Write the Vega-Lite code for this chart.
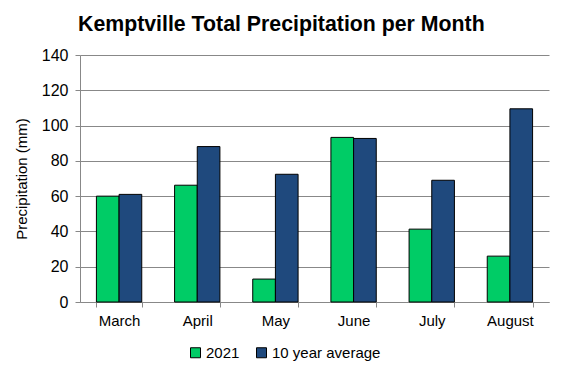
{
  "$schema": "https://vega.github.io/schema/vega-lite/v6.json",
  "width": 469,
  "height": 247,
  "autosize": "none",
  "padding": {"left": 80, "top": 55, "right": 15, "bottom": 71},
  "background": "white",
  "title": {
    "text": "Kemptville Total Precipitation per Month",
    "font": "Liberation Sans",
    "fontSize": 21.3,
    "fontWeight": "bold",
    "color": "#000000",
    "anchor": "start",
    "frame": "group",
    "dx": -2,
    "offset": 12
  },
  "data": {
    "values": [
      {"month": "March", "series": "2021", "value": 60},
      {"month": "March", "series": "10 year average", "value": 61},
      {"month": "April", "series": "2021", "value": 66.2},
      {"month": "April", "series": "10 year average", "value": 88.1},
      {"month": "May", "series": "2021", "value": 13},
      {"month": "May", "series": "10 year average", "value": 72.4},
      {"month": "June", "series": "2021", "value": 93.3},
      {"month": "June", "series": "10 year average", "value": 92.7},
      {"month": "July", "series": "2021", "value": 41.3},
      {"month": "July", "series": "10 year average", "value": 69},
      {"month": "August", "series": "2021", "value": 26},
      {"month": "August", "series": "10 year average", "value": 109.5}
    ]
  },
  "mark": {"type": "bar", "stroke": "#000000", "strokeWidth": 1},
  "encoding": {
    "x": {
      "field": "month",
      "type": "nominal",
      "sort": ["March", "April", "May", "June", "July", "August"],
      "scale": {"paddingInner": 0.42, "paddingOuter": 0.21},
      "axis": {
        "title": null,
        "labelAngle": 0,
        "labelFont": "Liberation Sans",
        "labelFontSize": 15,
        "labelColor": "#000000",
        "labelPadding": 6,
        "tickBand": "extent",
        "tickColor": "#888888",
        "tickSize": 5,
        "domainColor": "#888888",
        "grid": false
      }
    },
    "xOffset": {
      "field": "series",
      "type": "nominal",
      "sort": ["2021", "10 year average"],
      "scale": {"paddingInner": 0, "paddingOuter": 0}
    },
    "y": {
      "field": "value",
      "type": "quantitative",
      "scale": {"domain": [0, 140], "nice": false},
      "axis": {
        "title": "Precipitation (mm)",
        "titleFont": "Liberation Sans",
        "titleFontSize": 15,
        "titleFontWeight": "normal",
        "titleColor": "#000000",
        "titlePadding": 12,
        "values": [0, 20, 40, 60, 80, 100, 120, 140],
        "labelFont": "Liberation Sans",
        "labelFontSize": 16,
        "labelColor": "#000000",
        "labelPadding": 7,
        "tickColor": "#888888",
        "tickSize": 5,
        "domainColor": "#888888",
        "grid": true,
        "gridColor": "#888888",
        "gridWidth": 1
      }
    },
    "color": {
      "field": "series",
      "type": "nominal",
      "sort": ["2021", "10 year average"],
      "scale": {"domain": ["2021", "10 year average"], "range": ["#00CC66", "#1F497D"]},
      "legend": {
        "title": null,
        "orient": "none",
        "direction": "horizontal",
        "legendX": 108,
        "legendY": 290,
        "symbolType": "square",
        "symbolSize": 100,
        "symbolStrokeColor": "#000000",
        "symbolStrokeWidth": 1,
        "symbolOpacity": 1,
        "labelFont": "Liberation Sans",
        "labelFontSize": 15,
        "labelColor": "#000000",
        "labelOffset": 3,
        "columnPadding": 14
      }
    }
  },
  "config": {"view": {"stroke": null}}
}
